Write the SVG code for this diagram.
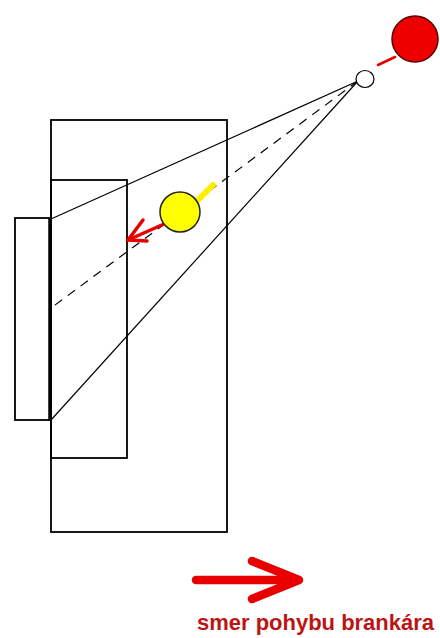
<svg xmlns="http://www.w3.org/2000/svg" width="440" height="638" viewBox="0 0 440 638">
<style>
.box{fill:none;stroke:#000;stroke-width:1.8}
.ray{stroke:#000;stroke-width:1.2;fill:none}
.dash{stroke-dasharray:9 7}
.red{stroke:#e80000;fill:none;stroke-linecap:round;stroke-linejoin:round}
.lbl{font-family:"Liberation Sans",Arial,sans-serif;font-weight:bold;font-size:22.5px;fill:#bc1414}
</style>
<rect width="440" height="638" fill="#fff"/>
<g id="field"><rect class="box" x="51" y="120" width="176" height="412"/></g>
<g id="goal-area"><rect class="box" x="51" y="180" width="76" height="278"/></g>
<g id="goal"><rect class="box" x="15" y="218" width="35" height="202"/><line x1="50" y1="218" x2="50" y2="420" stroke="#000" stroke-width="3.5"/></g>
<g id="connectors">
<line class="ray" x1="358" y1="81" x2="51" y2="219"/>
<line class="ray" x1="358" y1="81" x2="51" y2="420"/>
<line class="ray dash" x1="358" y1="81" x2="51" y2="308"/>
<line class="red" x1="378" y1="65" x2="395" y2="57" stroke-width="2.5"/>
<line x1="197" y1="201" x2="213" y2="185" stroke="#ffee00" stroke-width="6" stroke-linecap="round"/>
<g class="red" stroke-width="3.5"><line x1="164" y1="224" x2="128" y2="240"/><polyline points="143,220 128,240 147,241"/></g>
</g>
<g id="shooter"><circle cx="415" cy="39" r="23" fill="#ee0000" stroke="#5a0000" stroke-width="1.5"/></g>
<g id="point"><ellipse cx="365" cy="79" rx="9" ry="8.5" fill="#fff" stroke="#000" stroke-width="1.2"/></g>
<g id="ball"><circle cx="180" cy="212" r="20" fill="#ffff00" stroke="#222" stroke-width="1.5"/></g>
<g id="direction">
<g class="red" stroke-width="8.5"><line x1="196" y1="580" x2="292" y2="580"/><polyline points="252,561 299,580 252,599" stroke-linecap="round"/></g>
<text class="lbl" x="197" y="630" textLength="237" lengthAdjust="spacingAndGlyphs">smer pohybu brankára</text>
</g>
</svg>
